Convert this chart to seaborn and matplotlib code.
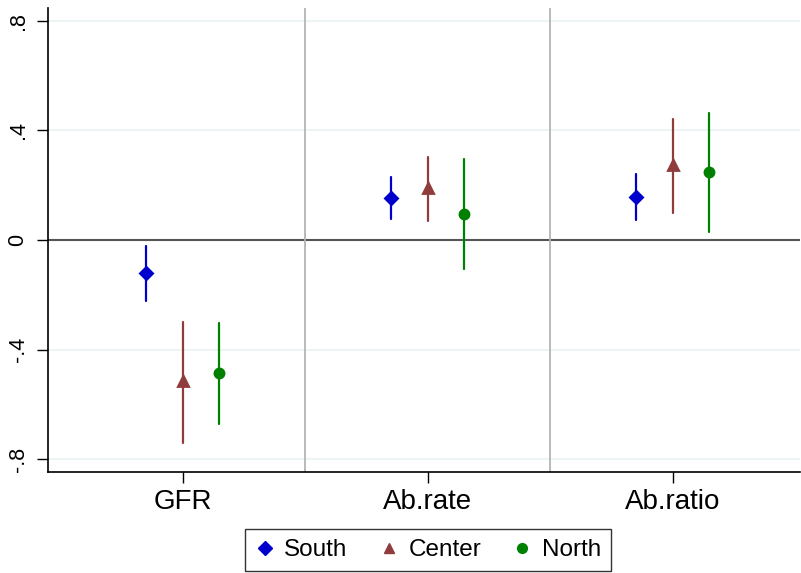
import matplotlib
matplotlib.use("Agg")
import matplotlib.pyplot as plt
from matplotlib.lines import Line2D
import seaborn as sns
import pandas as pd

# ---- data ----
outcomes = ["GFR", "Ab.rate", "Ab.ratio"]
regions = ["South", "Center", "North"]
est_south = [-0.122, 0.154, 0.156]
lo_south = [-0.223, 0.077, 0.073]
hi_south = [-0.022, 0.231, 0.241]
est_center = [-0.515, 0.189, 0.274]
lo_center = [-0.741, 0.069, 0.100]
hi_center = [-0.298, 0.304, 0.440]
est_north = [-0.487, 0.095, 0.247]
lo_north = [-0.672, -0.107, 0.030]
hi_north = [-0.304, 0.294, 0.465]
yticks = [-0.8, -0.4, 0, 0.4, 0.8]
ytick_labels = ["-.8", "-.4", "0", ".4", ".8"]

colors = ["#0000CD", "#903C3C", "#008000"]
markers = ["D", "^", "o"]

series = {
    "South": (lo_south, est_south, hi_south),
    "Center": (lo_center, est_center, hi_center),
    "North": (lo_north, est_north, hi_north),
}
rows = []
for reg in regions:
    lo, est, hi = series[reg]
    for i, out in enumerate(outcomes):
        for v in (lo[i], est[i], hi[i]):
            rows.append({"outcome": out, "region": reg, "value": v})
df = pd.DataFrame(rows)

sns.set_style("white")
plt.rcParams["font.family"] = ["Liberation Sans", "DejaVu Sans"]
plt.rcParams["text.color"] = "black"
plt.rcParams["xtick.color"] = "black"
plt.rcParams["ytick.color"] = "black"

fig = plt.figure(figsize=(8.01, 5.73), dpi=100)
ax = fig.add_axes([48 / 801, 1 - 472 / 573, 752 / 801, 464 / 573])

# reference lines
for y in [-0.8, -0.4, 0.4, 0.8]:
    ax.axhline(y, color="#EAF2F3", lw=1.2, zorder=0)
ax.axhline(0, color="#555555", lw=1.5, zorder=1)
for x in [0.5, 1.5]:
    ax.axvline(x, color="#B4B4B4", lw=1.3, zorder=1)

sns.pointplot(
    data=df, x="outcome", y="value", hue="region",
    order=outcomes, hue_order=regions,
    estimator="median", errorbar=("pi", 100),
    dodge=0.3, linestyle="none",
    palette=colors, markers=markers, markersize=6.5,
    err_kws={"linewidth": 1.6}, legend=False, ax=ax, zorder=3,
)

ax.set_xlim(-0.55, 2.52)
ax.set_ylim(-0.847, 0.847)
ax.set_yticks(yticks)
ax.set_yticklabels(ytick_labels, rotation=90, va="center", fontsize=15.5)
ax.tick_params(axis="y", left=True, length=8, width=1, color="black",
               labelcolor="black", pad=6)
ax.tick_params(axis="x", bottom=True, length=8, width=1, color="black",
               labelcolor="black", labelsize=20, pad=4)
ax.set_xlabel("")
ax.set_ylabel("")
for s in ["top", "right"]:
    ax.spines[s].set_visible(False)
for s in ["left", "bottom"]:
    ax.spines[s].set_color("black")
    ax.spines[s].set_linewidth(1.2)

handles = [
    Line2D([], [], linestyle="none", marker=m, color=c, markersize=7)
    for m, c in zip(markers, colors)
]
leg = fig.legend(
    handles, regions, loc="center", bbox_to_anchor=(428 / 801, 1 - 550 / 573),
    ncol=3, frameon=True, fancybox=False, fontsize=17.5,
    handlelength=0.8, handletextpad=0.4, columnspacing=1.3,
    borderpad=0.4, borderaxespad=0.0, edgecolor="black", labelcolor="black",
)
leg.get_frame().set_linewidth(1.0)

fig.savefig("out.png", dpi=100)
